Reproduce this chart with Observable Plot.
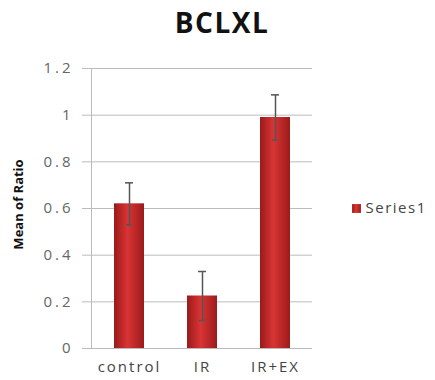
<!DOCTYPE html>
<html><head><meta charset="utf-8">
<script src="https://cdn.jsdelivr.net/npm/d3@7"></script>
<script src="https://cdn.jsdelivr.net/npm/@observablehq/plot@0.6"></script>
<style>body{margin:0;background:#fff}</style>
</head><body><div id="chart"></div>
<script>
const categories = ["control", "IR", "IR+EX"];
const means = [0.62, 0.225, 0.99];
const errors = [0.09, 0.105, 0.097];
const yTicks = [0, 0.2, 0.4, 0.6, 0.8, 1, 1.2];
const seriesName = "Series1";
const title = "BCLXL";
const yLabel = "Mean of Ratio";

const data = categories.map((c, i) => ({cat: c, v: means[i], lo: means[i] - errors[i], hi: means[i] + errors[i]}));

const defs = () => {
  const g = d3.create("svg:defs");
  const lg = g.append("linearGradient").attr("id", "barGrad").attr("x1", "0").attr("x2", "1").attr("y1", "0").attr("y2", "0");
  lg.append("stop").attr("offset", "0%").attr("stop-color", "#9a1a1a");
  lg.append("stop").attr("offset", "45%").attr("stop-color", "#d93434");
  lg.append("stop").attr("offset", "100%").attr("stop-color", "#9c1b1b");
  return g.node();
};

const chart = Plot.plot({
  width: 435, height: 380,
  marginTop: 68, marginBottom: 32, marginLeft: 91, marginRight: 123,
  style: {fontFamily: "Open Sans, Liberation Sans, sans-serif", background: "#fff"},
  x: {domain: categories, paddingInner: 0.59, paddingOuter: 0.3, label: null},
  y: {domain: [0, 1.2], ticks: yTicks, label: null},
  marks: [
    defs,
    Plot.gridY(yTicks, {stroke: "#bbb", strokeOpacity: 1}),
    Plot.frame({anchor: "left", stroke: "#bbb"}),
    Plot.axisY({ticks: yTicks, tickSize: 9, tickPadding: 9, stroke: "#bbb", color: "#666", fontSize: 15, tickFormat: d3.format(""), label: null}),
    Plot.axisX({tickSize: 0, tickPadding: 13, color: "#444", fontSize: 15, label: null}),
    Plot.barY(data, {x: "cat", y: "v", fill: "url(#barGrad)"}),
    Plot.ruleY([0], {stroke: "#bbb"}),
    Plot.ruleX(data, {x: "cat", y1: "lo", y2: "hi", stroke: "#555", strokeWidth: 1.5}),
    Plot.tickY(data, {x: "cat", y: "hi", stroke: "#555", strokeWidth: 1.5, insetLeft: 11, insetRight: 11}),
    Plot.tickY(data, {x: "cat", y: "lo", stroke: "#555", strokeWidth: 1.5, insetLeft: 12, insetRight: 12}),
    Plot.text([title], {frameAnchor: "top", lineAnchor: "top", dy: -55, dx: 20, fontSize: 28, fontWeight: "bold", fill: "#111"}),
    Plot.text([yLabel], {frameAnchor: "left", textAnchor: "middle", dx: -73, dy: -4, rotate: -90, fontSize: 13, fontWeight: "bold", fill: "#111"}),
    Plot.dot([0], {frameAnchor: "right", dx: 44, dy: 0, symbol: "square", r: 5, fill: "url(#barGrad)"}),
    Plot.text([seriesName], {frameAnchor: "right", dx: 53, textAnchor: "start", fontSize: 15, fill: "#444"})
  ]
});
const s = d3.select(chart);
s.selectAll('g[aria-label="y-axis tick label"] text').style("letter-spacing", "3px");
s.selectAll('g[aria-label="x-axis tick label"] text').style("letter-spacing", "2px");
s.selectAll("text").filter(function() { return this.textContent === title; }).style("letter-spacing", "1.5px");
s.selectAll("text").filter(function() { return this.textContent === seriesName; }).style("letter-spacing", "1.5px");
document.getElementById("chart").appendChild(chart);
</script></body></html>
